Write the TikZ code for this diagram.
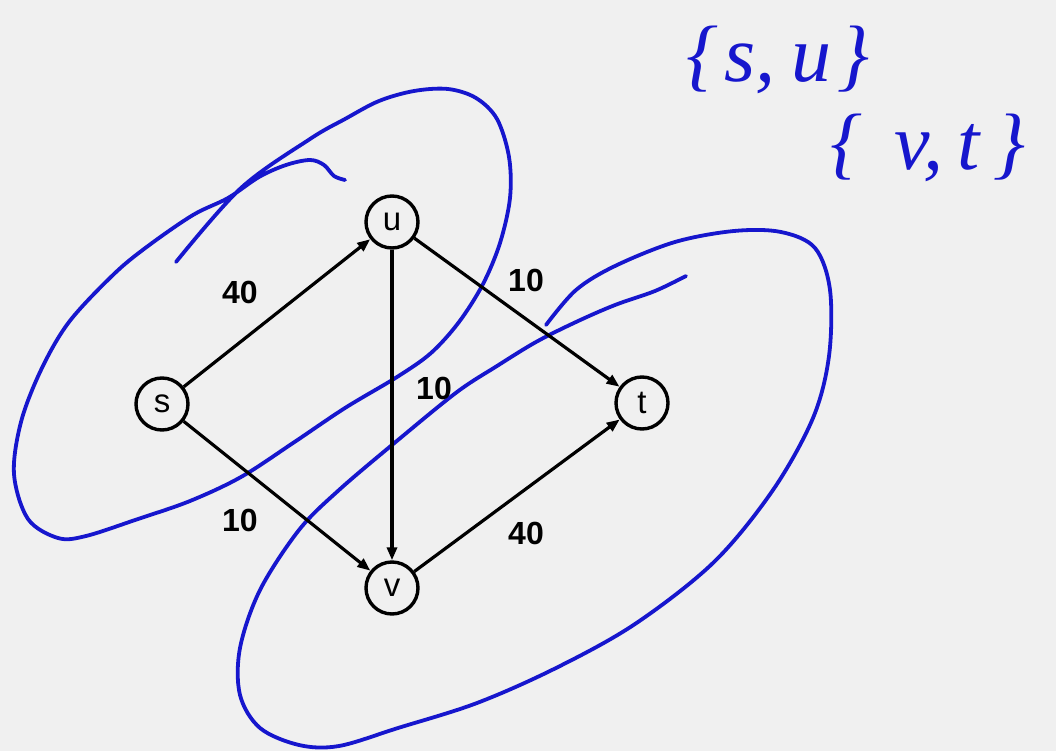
\documentclass[tikz,border=0pt]{standalone}
\usepackage{fontspec}
\setmainfont{Liberation Sans}
\newfontfamily\handfont{Liberation Serif}
\usetikzlibrary{arrows.meta}
\definecolor{bg}{RGB}{240,240,240}
\definecolor{ink}{RGB}{22,22,205}
\begin{document}
\begin{tikzpicture}[x=1pt,y=-1pt,
  vert/.style={circle,draw,line width=3.4pt,minimum size=52pt,inner sep=0pt,font=\fontsize{33}{33}\selectfont},
  edge/.style={line width=3.2pt,-{Triangle[length=13pt,width=10pt]}},
  wt/.style={font=\bfseries\fontsize{32}{32}\selectfont,inner sep=0pt},
  pen/.style={ink,line width=3.8pt,line cap=round,line join=round},
  hand/.style={ink,inner sep=0pt,font=\handfont\itshape\fontsize{80}{80}\selectfont}]
\fill[bg] (0,0) rectangle (1056,751);
\useasboundingbox (0,0) rectangle (1056,751);

% blue lasso strokes
\draw[pen] plot[smooth,tension=0.55] coordinates {
 (176,262) (241,188) (310,139) (345,119) (379,101) (414,91) (448,89) (476,98)
 (497,119) (509,157) (510,198) (500,243) (483,284) (459,322) (431,353) (397,377)
 (345,408) (293,443) (241,477) (190,501) (138,519) (86,536) (58,538) (28,519)
 (14,474) (21,422) (41,370) (69,322) (114,274) (148,246) (193,215) (228,198)
 (259,177) (286,165) (310,160) (324,165) (334,176) (345,180)};
\draw[pen] plot[smooth,tension=0.55] coordinates {
 (686,276) (655,291) (615,305) (576,322) (536,342) (497,366) (457,392) (398,440)
 (339,490) (299,530) (260,590) (240,648) (240,695) (260,728) (299,745) (339,746)
 (398,728) (477,703) (556,668) (635,624) (714,562) (773,490) (813,418) (829,356)
 (830,290) (815,248) (781,232) (734,231) (675,242) (615,266) (576,290) (546,325)};

% vertices
\node[vert] (s) at (162,404) {s};
\node[vert] (u) at (392,222) {u};
\node[vert] (t) at (642,403) {t};
\node[vert] (v) at (392,588) {v};

% edges
\draw[edge] (s) -- (u);
\draw[edge] (u) -- (t);
\draw[edge] (u) -- (v);
\draw[edge] (s) -- (v);
\draw[edge] (v) -- (t);

% capacities
\node[wt] (wsu) at (240,292) {40};
\node[wt] (wut) at (526,280) {10};
\node[wt] (wuv) at (434,388) {10};
\node[wt] (wsv) at (240,520) {10};
\node[wt] (wvt) at (526,533) {40};

% handwritten sets
\node[hand] (su) at (778,60) {\{\hspace{6pt}s,\hspace{16pt}u\hspace{6pt}\}};
\node[hand] (vt) at (928,148) {\{\hspace{32pt}v,\hspace{14pt}t\hspace{14pt}\}};
\end{tikzpicture}
\end{document}
